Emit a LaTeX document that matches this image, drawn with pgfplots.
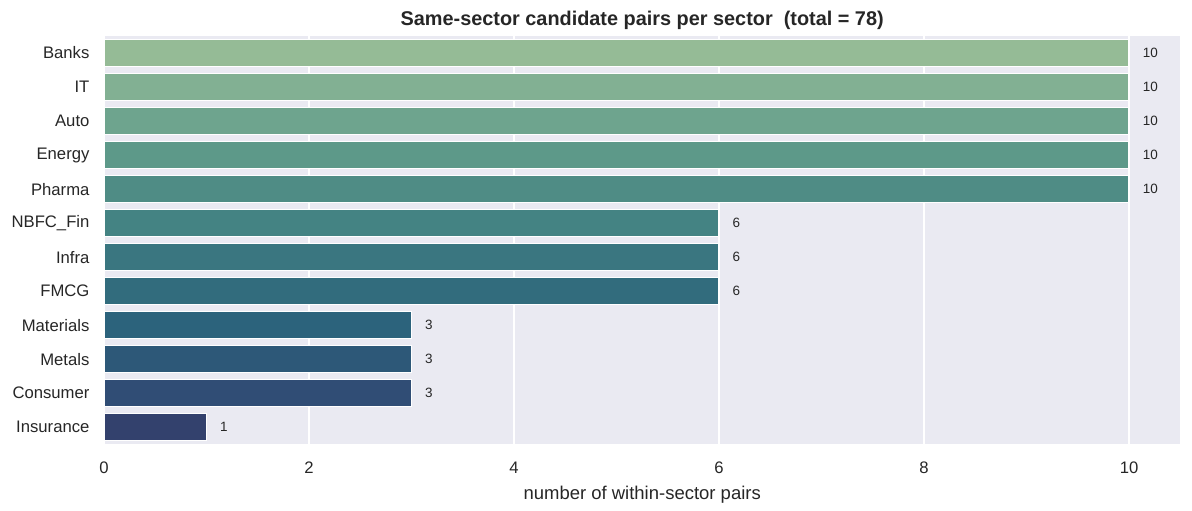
\documentclass[border=0pt]{standalone}
\usepackage{pgfplots}
\pgfplotsset{compat=1.18}
\usepackage{fontspec}
\setmainfont{Liberation Sans}
\definecolor{bgc}{HTML}{EAEAF2}
\definecolor{txt}{HTML}{262626}
\definecolor{c1}{RGB}{149,187,150}
\definecolor{c2}{RGB}{130,176,147}
\definecolor{c3}{RGB}{110,164,142}
\definecolor{c4}{RGB}{93,153,137}
\definecolor{c5}{RGB}{79,140,133}
\definecolor{c6}{RGB}{68,131,131}
\definecolor{c7}{RGB}{58,118,128}
\definecolor{c8}{RGB}{50,108,125}
\definecolor{c9}{RGB}{44,99,124}
\definecolor{c10}{RGB}{45,88,120}
\definecolor{c11}{RGB}{48,77,117}
\definecolor{c12}{RGB}{51,65,109}
\begin{document}
\begin{tikzpicture}
\begin{axis}[
  scale only axis,
  width=774.7pt, height=293.8pt,
  xmin=0, xmax=10.5,
  ymin=-0.5, ymax=11.5,
  y dir=reverse,
  axis background/.style={fill=bgc},
  axis line style={draw=none},
  major tick length=0pt,
  xtick={0,2,4,6,8,10},
  ytick={0,...,11},
  yticklabels={Banks,IT,Auto,Energy,Pharma,NBFC\_Fin,Infra,FMCG,Materials,Metals,Consumer,Insurance},
  xmajorgrids=true,
  ymajorgrids=false,
  grid style={white, line width=1pt},
  /pgf/number format/assume math mode=true,
  tick label style={font=\fontsize{12}{14}\selectfont, text=txt},
  yticklabel style={xshift=-7pt},
  xticklabel style={yshift=-9pt},
  xlabel={number of within-sector pairs},
  xlabel style={font=\fontsize{13.3}{15}\selectfont, text=txt, yshift=-2pt},
  title={Same-sector candidate pairs per sector\ \ (total = 78)},
  title style={font=\bfseries\fontsize{14.3}{16}\selectfont, text=txt, yshift=-5pt},
  xbar, bar width=0.8, bar shift=0pt,
  every axis plot/.append style={draw=white, line width=1pt},
  nodes near coords,
  nodes near coords style={font=\fontsize{9.7}{11}\selectfont, text=txt, anchor=west, xshift=6pt},
]
\addplot[fill=c1] coordinates {(10,0)};
\addplot[fill=c2] coordinates {(10,1)};
\addplot[fill=c3] coordinates {(10,2)};
\addplot[fill=c4] coordinates {(10,3)};
\addplot[fill=c5] coordinates {(10,4)};
\addplot[fill=c6] coordinates {(6,5)};
\addplot[fill=c7] coordinates {(6,6)};
\addplot[fill=c8] coordinates {(6,7)};
\addplot[fill=c9] coordinates {(3,8)};
\addplot[fill=c10] coordinates {(3,9)};
\addplot[fill=c11] coordinates {(3,10)};
\addplot[fill=c12] coordinates {(1,11)};
\end{axis}
\path (current axis.south west) ++(-74.9pt,-47.5pt) coordinate (bl);
\path (current axis.north east) ++(8.4pt,25.9pt) coordinate (tr);
\path (bl) rectangle (tr);
\end{tikzpicture}
\end{document}
